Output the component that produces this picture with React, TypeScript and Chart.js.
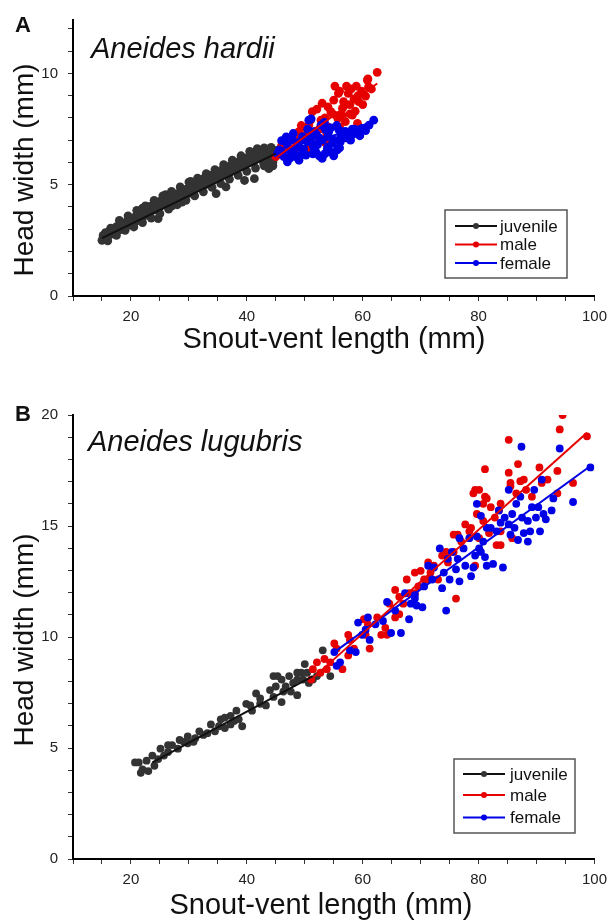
import React, { useEffect, useRef } from "react";
import { Chart, registerables } from "chart.js";

Chart.register(...registerables);

const FONT = '"Liberation Sans", Arial, Helvetica, sans-serif';

// ---------- shared axis / label values ----------
const GROUPS = ["juvenile", "male", "female"];
const X_TITLE = "Snout-vent length (mm)";
const Y_TITLE = "Head width (mm)";
const X_MIN = 10;
const X_MAX = 100;
const X_MINOR_STEP = 5;
const X_LABEL_STEP = 20;
const Y_MINOR_STEP = 1;
const Y_LABEL_STEP = 5;

// ---------- Panel A: Aneides hardii ----------
const hardiiYMax = 12.4;
const hardiiJuvSVL = [
  15.0, 15.2, 15.5, 15.8, 16.0, 16.3, 16.6, 17.0, 17.2, 17.5,
  17.8, 18.0, 18.3, 18.6, 18.9, 19.1, 19.4, 19.7, 20.0, 20.2,
  20.5, 20.8, 21.0, 21.3, 21.6, 21.9, 22.2, 22.5, 22.8, 23.0,
  23.3, 23.6, 23.9, 24.2, 24.5, 24.7, 25.0, 25.3, 25.6, 25.9,
  26.2, 26.5, 26.8, 27.1, 27.4, 27.7, 28.0, 28.3, 28.8, 29.0,
  29.3, 29.6, 29.9, 30.2, 30.5, 30.8, 31.1, 31.4, 31.7, 32.0,
  32.3, 32.6, 32.9, 33.2, 33.5, 33.8, 34.1, 34.7, 34.4, 34.8,
  35.1, 35.4, 35.7, 36.0, 36.4, 36.3, 36.6, 36.9, 37.2, 37.5,
  37.8, 38.1, 38.4, 38.7, 39.0, 39.3, 39.6, 39.6, 39.9, 40.2,
  40.5, 40.8, 41.1, 41.3, 41.4, 41.7, 42.0, 42.3, 42.6, 42.9,
  43.2, 43.5, 43.8, 44.1, 44.4, 44.7, 45.0, 43.8, 44.5, 22.0,
  26.0, 30.3, 16.8, 19.9, 24.0, 28.5, 33.0, 37.0, 40.5, 42.8,
  16.5, 18.0, 19.5, 21.0, 22.5, 24.0, 25.5, 27.0, 28.5, 30.0,
  31.5, 33.0, 34.5, 36.0, 37.5, 39.0, 40.5, 41.8, 43.0, 44.2,
  16.0, 17.5, 19.0, 20.5, 22.0, 23.5, 25.0, 26.5, 28.0, 29.5,
  31.0, 32.5, 34.0, 35.5, 37.0, 38.5, 40.0, 41.5, 43.0, 44.5,
  15.6, 18.7, 21.5, 24.4, 27.2, 30.0, 32.8, 35.5, 38.2, 41.0,
  43.5, 45.3,
];
const hardiiJuvHW = [
  2.50, 2.72, 2.60, 2.82, 2.66, 2.92, 2.78, 3.02, 2.84, 3.12,
  2.95, 3.20, 3.05, 2.98, 3.28, 3.12, 3.36, 3.18, 3.42, 3.25,
  3.52, 3.34, 3.62, 3.45, 3.70, 3.52, 3.80, 3.62, 3.92, 3.72,
  4.02, 3.82, 4.10, 3.88, 4.20, 3.48, 4.02, 4.30, 4.10, 4.38,
  4.18, 4.46, 4.25, 4.05, 4.52, 4.34, 4.60, 4.42, 4.22, 4.70,
  4.50, 4.80, 4.60, 4.95, 4.70, 5.08, 4.82, 5.12, 4.92, 5.20,
  4.98, 5.28, 5.05, 5.36, 5.12, 5.42, 5.20, 4.60, 5.50, 5.28,
  5.58, 5.36, 5.66, 5.44, 4.90, 5.74, 5.52, 5.82, 5.60, 5.90,
  5.66, 5.98, 5.74, 6.06, 5.82, 6.12, 5.19, 5.90, 6.20, 5.98,
  6.28, 6.04, 6.36, 5.27, 6.12, 6.42, 6.18, 6.48, 6.24, 5.95,
  6.52, 6.30, 6.05, 6.56, 6.36, 6.20, 6.48, 5.72, 5.85, 3.95,
  4.55, 5.15, 2.95, 3.30, 3.95, 4.35, 5.02, 5.55, 6.10, 6.35,
  3.05, 3.40, 3.60, 3.85, 4.05, 4.30, 4.50, 4.70, 4.90, 5.12,
  5.30, 5.50, 5.68, 5.90, 6.10, 6.30, 6.50, 6.62, 6.65, 6.68,
  2.48, 2.72, 2.95, 3.10, 3.30, 3.50, 3.70, 3.90, 4.10, 4.30,
  4.50, 4.68, 4.88, 5.05, 5.25, 5.42, 5.60, 5.75, 5.85, 6.00,
  2.85, 3.20, 3.55, 3.95, 4.35, 4.85, 5.20, 5.45, 5.78, 6.15,
  6.40, 6.55,
];
const hardiiMaleSVL = [
  62.5, 60.8, 55.2, 57.2, 58.9, 55.8, 57.5, 60.5, 59.3, 56.7,
  53.0, 56.5, 54.5, 51.3, 58.2, 55.7, 52.8, 57.0, 50.7, 59.1,
  49.6, 49.0, 46.7, 46.2, 50.2, 45.0, 48.2, 52.1, 54.8, 56.8,
  58.5, 60.9, 59.2, 56.5, 57.8, 49.4, 47.7, 50.7, 48.7, 46.0,
  52.0, 53.5, 61.5, 54.0, 51.8, 53.5, 54.0, 55.0, 56.0, 57.8,
  58.0, 59.8, 61.0, 52.5, 51.0, 50.0, 48.5, 47.5, 53.8, 56.0,
  58.7, 60.0, 55.5,
];
const hardiiMaleHW = [
  10.05, 9.70, 9.43, 9.43, 9.43, 9.10, 9.10, 8.98, 8.73, 8.73,
  8.66, 8.43, 8.28, 8.28, 8.13, 7.98, 7.90, 7.83, 7.68, 7.76,
  7.60, 7.38, 6.86, 6.56, 6.56, 6.26, 6.40, 8.40, 8.18, 8.55,
  8.85, 9.75, 9.00, 8.10, 8.18, 7.66, 7.06, 6.54, 6.90, 6.76,
  7.20, 6.90, 9.30, 7.60, 7.40, 8.00, 8.50, 8.80, 9.20, 8.60,
  9.30, 9.20, 9.40, 7.50, 7.90, 7.20, 7.20, 6.60, 7.30, 7.60,
  8.30, 8.60, 8.10,
];
const hardiiFemSVL = [
  61.9, 61.1, 59.9, 58.6, 57.9, 56.2, 54.8, 53.6, 52.8, 50.7,
  51.6, 49.6, 47.9, 46.7, 45.6, 46.4, 48.5, 50.2, 51.9, 53.9,
  53.0, 55.6, 47.0, 49.0, 51.3, 52.5, 54.0, 55.9, 57.0, 50.5,
  48.7, 47.6, 51.1, 53.4, 55.5, 58.2, 60.5, 46.0, 47.0, 48.6,
  51.4, 54.5, 56.1, 56.8, 54.1, 52.2, 49.8, 45.3, 57.5, 59.0,
  46.0, 47.0, 48.0, 49.0, 50.0, 51.0, 52.0, 53.0, 54.0, 55.0,
  56.0, 57.0, 49.5, 51.5, 53.5, 48.0, 50.5, 52.5, 54.5, 56.5,
  58.0, 59.5, 47.5, 46.8, 55.0,
];
const hardiiFemHW = [
  7.90, 7.68, 7.53, 7.50, 7.00, 7.16, 6.86, 7.46, 7.68, 7.90,
  7.38, 7.16, 7.00, 6.93, 6.56, 6.26, 6.26, 6.33, 6.48, 6.63,
  6.18, 6.56, 6.03, 6.10, 6.86, 7.10, 7.16, 7.46, 7.40, 6.93,
  6.70, 6.48, 7.96, 7.80, 7.66, 7.50, 7.43, 6.98, 6.16, 6.31,
  6.39, 6.46, 6.91, 7.20, 7.36, 6.80, 6.60, 6.40, 7.25, 7.30,
  6.50, 6.80, 6.60, 6.90, 7.00, 7.10, 7.25, 7.00, 6.70, 7.00,
  6.65, 7.10, 6.40, 6.70, 6.40, 7.30, 7.50, 6.30, 7.55, 7.35,
  7.20, 7.20, 6.20, 7.15, 6.30,
];
const hardiiJuvFitSVL = [15, 45];
const hardiiJuvFitHW = [2.6, 6.4];
const hardiiMaleFitSVL = [45, 62.5];
const hardiiMaleFitHW = [6.2, 9.55];
const hardiiFemFitSVL = [45, 62];
const hardiiFemFitHW = [6.3, 7.85];

// ---------- Panel B: Aneides lugubris ----------
const lugubrisYMax = 20;
const lugJuvSVL = [
  21.35, 22.0, 22.7, 23.0, 24.05, 25.1, 24.7, 26.4, 27.1, 28.1,
  29.1, 29.8, 30.8, 31.8, 33.2, 33.8, 34.5, 35.5, 36.2, 37.2,
  38.2, 39.2, 39.9, 40.9, 41.6, 42.3, 43.3, 44.0, 45.0, 45.3,
  46.0, 46.7, 47.3, 48.0, 48.7, 49.4, 50.0, 50.7, 51.4, 52.1,
  53.1, 54.4, 48.7, 46.3, 37.8, 32.5, 28.4, 23.7, 21.7, 20.7,
  35.2, 44.6, 40.6, 47.6, 44.6, 46.0, 48.7, 49.7, 50.4, 42.3,
  37.2, 36.2, 38.6, 29.8, 31.1, 25.7, 26.4,
];
const lugJuvHW = [
  4.35, 4.04, 4.43, 3.96, 4.20, 4.97, 4.50, 4.82, 5.13, 4.97,
  5.28, 5.52, 5.28, 5.75, 5.67, 6.06, 5.75, 6.29, 5.90, 6.45,
  6.68, 5.98, 6.99, 6.68, 7.46, 6.99, 6.92, 7.61, 7.77, 8.24,
  7.07, 7.77, 8.24, 7.93, 7.38, 8.39, 8.78, 7.93, 8.08, 8.24,
  9.40, 8.24, 8.08, 7.54, 6.22, 5.59, 5.36, 4.66, 3.88, 4.35,
  5.98, 7.30, 6.92, 7.54, 8.24, 8.08, 8.39, 8.08, 8.39, 7.23,
  6.06, 6.37, 6.29, 5.21, 5.44, 4.66, 5.13,
];
const lugMaleSVL = [
  51.1, 51.4, 52.1, 52.7, 53.4, 53.8, 54.4, 55.1, 56.5, 57.5,
  57.8, 58.5, 60.5, 61.2, 60.9, 62.5, 63.2, 63.9, 64.6, 65.6,
  65.6, 66.3, 67.0, 67.6, 68.0, 69.0, 69.6, 70.0, 70.6, 71.3,
  71.7, 72.3, 73.0, 73.7, 74.4, 74.7, 75.7, 76.1, 75.7, 76.4,
  77.0, 77.7, 78.4, 79.1, 79.4, 79.7, 79.4, 80.1, 80.8, 81.1,
  81.1, 81.4, 82.1, 82.8, 83.1, 83.8, 83.8, 85.2, 85.2, 85.5,
  85.8, 86.5, 86.8, 87.2, 87.8, 88.2, 89.2, 90.5, 90.9, 91.9,
  93.6, 93.6, 94.0, 94.5, 96.3, 98.7, 80.8, 81.8, 83.5, 83.8,
  71.3, 64.2, 60.2, 57.5, 55.5, 66.3, 69.0, 78.7, 80.1, 85.5,
];
const lugMaleHW = [
  8.08, 8.55, 8.86, 8.39, 9.01, 8.55, 8.86, 9.71, 8.55, 10.10,
  9.87, 9.48, 10.10, 9.48, 10.57, 10.88, 10.10, 10.41, 11.50, 10.88,
  12.12, 11.81, 11.50, 12.59, 11.97, 12.90, 12.28, 12.98, 12.59, 13.36,
  12.90, 13.21, 12.59, 13.67, 13.83, 13.36, 13.83, 11.73, 14.61, 14.61,
  14.30, 15.07, 14.76, 16.47, 16.63, 15.54, 13.21, 14.45, 15.23, 16.32,
  17.56, 16.24, 15.85, 15.38, 14.14, 16.01, 14.76, 18.88, 17.40, 16.94,
  14.45, 16.47, 17.79, 17.02, 17.09, 16.63, 16.32, 17.64, 16.94, 17.09,
  17.48, 16.47, 19.35, 20.00, 16.94, 19.04, 16.00, 14.68, 15.70, 14.14,
  12.59, 10.10, 10.80, 9.17, 9.48, 11.03, 11.97, 14.92, 16.63, 16.79,
];
const lugFemSVL = [
  55.1, 55.5, 56.1, 57.8, 59.2, 59.9, 60.5, 60.9, 61.2, 62.2,
  64.2, 64.9, 65.6, 66.6, 67.3, 68.0, 68.3, 69.0, 69.3, 70.3,
  70.6, 71.3, 72.0, 72.3, 73.3, 73.7, 74.0, 74.4, 74.7, 75.0,
  76.1, 76.4, 76.7, 76.7, 77.4, 77.7, 78.4, 78.7, 79.1, 79.7,
  79.7, 80.1, 80.4, 80.8, 81.1, 81.4, 82.1, 82.5, 83.1, 83.5,
  84.2, 84.5, 85.2, 85.2, 85.5, 85.8, 86.2, 86.5, 86.8, 87.2,
  87.4, 87.5, 87.8, 88.5, 88.9, 89.2, 89.6, 89.9, 90.3, 90.6,
  90.9, 91.2, 91.6, 92.6, 92.9, 94.0, 96.3, 99.3, 80.4, 83.8,
  88.5, 81.4, 75.4, 69.0, 63.5, 58.8, 79.4,
];
const lugFemHW = [
  9.32, 8.70, 8.86, 9.40, 10.65, 10.10, 10.33, 10.88, 9.87, 10.57,
  11.58, 10.18, 11.19, 10.18, 11.97, 10.80, 11.50, 11.89, 11.42, 11.34,
  12.28, 13.21, 12.59, 13.13, 13.99, 12.20, 12.90, 11.19, 13.52, 12.59,
  13.05, 13.52, 12.51, 14.45, 13.99, 13.21, 14.45, 12.74, 13.13, 14.53,
  16.00, 13.99, 13.83, 14.30, 13.60, 13.21, 14.92, 13.29, 14.76, 15.70,
  13.13, 15.38, 16.63, 15.07, 14.61, 15.54, 14.92, 16.00, 14.37, 16.32,
  18.57, 15.38, 14.68, 15.23, 14.76, 15.85, 16.63, 15.38, 15.85, 14.76,
  17.09, 15.54, 15.30, 15.70, 16.24, 18.49, 16.08, 17.64, 15.46, 15.15,
  14.30, 14.92, 13.83, 11.73, 10.72, 9.32, 13.67,
];
const lugJuvFitSVL = [23.7, 51.4];
const lugJuvFitHW = [4.35, 8.24];
const lugMaleFitSVL = [51.1, 98.7];
const lugMaleFitHW = [8.08, 19.2];
const lugFemFitSVL = [55.1, 99.3];
const lugFemFitHW = [9.32, 17.7];

// ---------- styling ----------
const POINT_COLORS: Record<string, string> = {
  juvenile: "#333333",
  male: "#e60000",
  female: "#0000e6",
};
const LINE_COLORS: Record<string, string> = {
  juvenile: "#111111",
  male: "#e60000",
  female: "#0000e6",
};

const toPts = (xs: number[], ys: number[]) => xs.map((x, i) => ({ x, y: ys[i] }));

type PanelSpec = {
  letter: string;
  species: string;
  yMax: number;
  height: number;
  padTop: number;
  xScaleHeight: number;
  pointRadius: number;
  linesOnTop: boolean;
  points: Record<string, { x: number; y: number }[]>;
  fits: Record<string, { x: number; y: number }[]>;
  letterPos: [number, number];
  speciesPos: [number, number];
  xTitlePos: [number, number];
  yTitlePos: [number, number];
  legend: { x: number; y: number; w: number; h: number; rows: number[]; lineX: [number, number]; dotX: number; textX: number };
};

const decorPlugin = (spec: PanelSpec) => ({
  id: "panelDecor",
  afterDraw(chart: any) {
    const ctx: CanvasRenderingContext2D = chart.ctx;
    ctx.save();
    ctx.fillStyle = "#111";
    ctx.textBaseline = "alphabetic";
    ctx.textAlign = "left";
    ctx.font = `bold 22px ${FONT}`;
    ctx.fillText(spec.letter, spec.letterPos[0], spec.letterPos[1]);
    ctx.font = `italic 29px ${FONT}`;
    ctx.fillText(spec.species, spec.speciesPos[0], spec.speciesPos[1]);
    ctx.textAlign = "center";
    ctx.font = `29px ${FONT}`;
    ctx.fillText(X_TITLE, spec.xTitlePos[0], spec.xTitlePos[1]);
    ctx.save();
    ctx.translate(spec.yTitlePos[0], spec.yTitlePos[1]);
    ctx.rotate(-Math.PI / 2);
    ctx.font = `28px ${FONT}`;
    ctx.fillText(Y_TITLE, 0, 0);
    ctx.restore();

    // legend
    const L = spec.legend;
    ctx.fillStyle = "#fff";
    ctx.fillRect(L.x, L.y, L.w, L.h);
    ctx.strokeStyle = "#555";
    ctx.lineWidth = 1.5;
    ctx.strokeRect(L.x, L.y, L.w, L.h);
    ctx.font = `17px ${FONT}`;
    ctx.textAlign = "left";
    ctx.textBaseline = "middle";
    GROUPS.forEach((g, i) => {
      const y = L.rows[i];
      ctx.strokeStyle = LINE_COLORS[g];
      ctx.lineWidth = 2;
      ctx.beginPath();
      ctx.moveTo(L.lineX[0], y);
      ctx.lineTo(L.lineX[1], y);
      ctx.stroke();
      ctx.fillStyle = POINT_COLORS[g];
      ctx.beginPath();
      ctx.arc(L.dotX, y, 3, 0, Math.PI * 2);
      ctx.fill();
      ctx.fillStyle = "#111";
      ctx.fillText(g, L.textX, y + 1);
    });
    ctx.restore();
  },
});

function makeConfig(spec: PanelSpec): any {
  const fitSets = GROUPS.map((g) => ({
    label: g + " fit",
    data: spec.fits[g],
    showLine: true,
    borderColor: LINE_COLORS[g],
    borderWidth: 2,
    pointRadius: 0,
    fill: false,
  }));
  const ptSets = ["female", "male", "juvenile"].map((g) => ({
    label: g,
    data: spec.points[g],
    showLine: false,
    pointRadius: spec.pointRadius,
    pointBorderWidth: 0,
    pointBackgroundColor: POINT_COLORS[g],
    pointBorderColor: POINT_COLORS[g],
  }));
  const datasets = spec.linesOnTop ? [...fitSets, ...ptSets] : [...ptSets, ...fitSets];
  return {
    type: "scatter",
    data: { datasets },
    options: {
      animation: false,
      responsive: false,
      maintainAspectRatio: false,
      events: [],
      layout: { padding: { top: spec.padTop, right: 17, left: 0, bottom: 0 } },
      plugins: { legend: { display: false }, tooltip: { enabled: false }, title: { display: false } },
      scales: {
        x: {
          type: "linear",
          min: X_MIN,
          max: X_MAX,
          afterFit: (s: any) => {
            s.height = spec.xScaleHeight;
          },
          grid: { display: true, drawOnChartArea: false, drawTicks: true, tickLength: 5, color: "#333", lineWidth: 1 },
          border: { display: true, color: "#000", width: 2 },
          ticks: {
            stepSize: X_MINOR_STEP,
            autoSkip: false,
            maxRotation: 0,
            includeBounds: false,
            padding: 7,
            color: "#222",
            font: { family: FONT, size: 15 },
            callback: (v: any) => (Number(v) % X_LABEL_STEP === 0 ? String(v) : ""),
          },
        },
        y: {
          type: "linear",
          min: 0,
          max: spec.yMax,
          afterFit: (s: any) => {
            s.width = 73;
          },
          grid: { display: true, drawOnChartArea: false, drawTicks: true, tickLength: 5, color: "#333", lineWidth: 1 },
          border: { display: true, color: "#000", width: 2 },
          ticks: {
            stepSize: Y_MINOR_STEP,
            autoSkip: false,
            includeBounds: false,
            padding: 10,
            color: "#222",
            font: { family: FONT, size: 15 },
            callback: (v: any) => (Number(v) % Y_LABEL_STEP === 0 ? String(v) : ""),
          },
        },
      },
    },
    plugins: [decorPlugin(spec)],
  };
}

const panelA: PanelSpec = {
  letter: "A",
  species: "Aneides hardii",
  yMax: hardiiYMax,
  height: 380,
  padTop: 20,
  xScaleHeight: 84,
  pointRadius: 4.4,
  linesOnTop: true,
  points: {
    juvenile: toPts(hardiiJuvSVL, hardiiJuvHW),
    male: toPts(hardiiMaleSVL, hardiiMaleHW),
    female: toPts(hardiiFemSVL, hardiiFemHW),
  },
  fits: {
    juvenile: toPts(hardiiJuvFitSVL, hardiiJuvFitHW),
    male: toPts(hardiiMaleFitSVL, hardiiMaleFitHW),
    female: toPts(hardiiFemFitSVL, hardiiFemFitHW),
  },
  letterPos: [15, 32],
  speciesPos: [91, 58],
  xTitlePos: [334, 348],
  yTitlePos: [33, 170],
  legend: { x: 445, y: 210, w: 122, h: 68, rows: [226, 244.5, 263], lineX: [455, 497], dotX: 476, textX: 500 },
};

const panelB: PanelSpec = {
  letter: "B",
  species: "Aneides lugubris",
  yMax: lugubrisYMax,
  height: 541,
  padTop: 35,
  xScaleHeight: 62,
  pointRadius: 3.9,
  linesOnTop: true,
  points: {
    juvenile: toPts(lugJuvSVL, lugJuvHW),
    male: toPts(lugMaleSVL, lugMaleHW),
    female: toPts(lugFemSVL, lugFemHW),
  },
  fits: {
    juvenile: toPts(lugJuvFitSVL, lugJuvFitHW),
    male: toPts(lugMaleFitSVL, lugMaleFitHW),
    female: toPts(lugFemFitSVL, lugFemFitHW),
  },
  letterPos: [15, 41],
  speciesPos: [88, 71],
  xTitlePos: [321, 534],
  yTitlePos: [33, 260],
  legend: { x: 454, y: 379, w: 121, h: 74, rows: [394, 415, 437.5], lineX: [463, 505], dotX: 484, textX: 510 },
};

export default function App() {
  const refA = useRef<HTMLCanvasElement | null>(null);
  const refB = useRef<HTMLCanvasElement | null>(null);

  useEffect(() => {
    const charts: Chart[] = [];
    if (refA.current) charts.push(new Chart(refA.current, makeConfig(panelA)));
    if (refB.current) charts.push(new Chart(refB.current, makeConfig(panelB)));
    return () => charts.forEach((c) => c.destroy());
  }, []);

  return (
    <div style={{ position: "absolute", left: 0, top: 0, width: 614, height: 921, background: "#fff" }}>
      <canvas ref={refA} width={614} height={380} style={{ display: "block", width: 614, height: 380 }} />
      <canvas ref={refB} width={614} height={541} style={{ display: "block", width: 614, height: 541 }} />
    </div>
  );
}
